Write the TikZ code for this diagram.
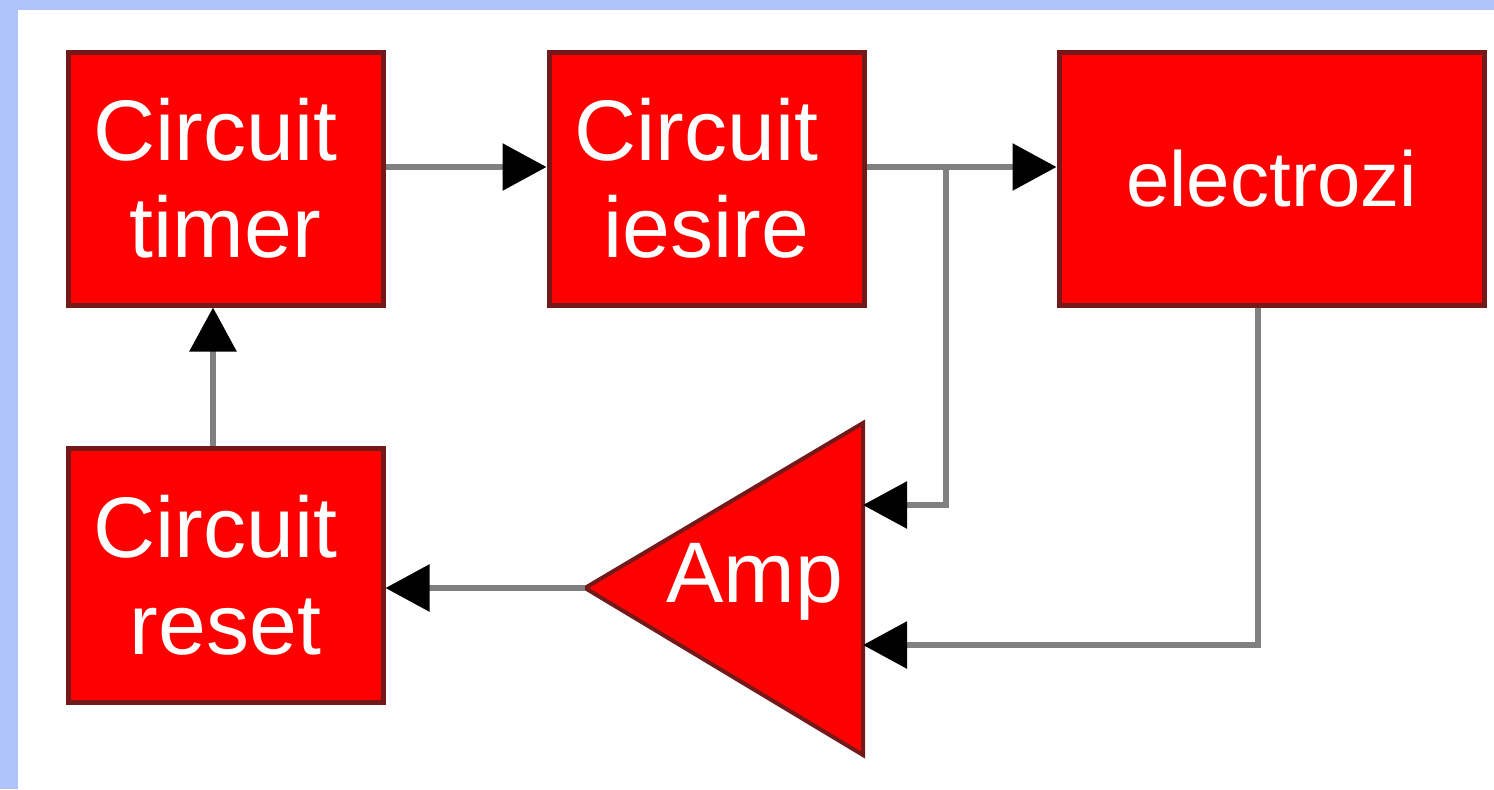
\documentclass[tikz,border=0pt]{standalone}
\usepackage{fontspec}
\setmainfont{Liberation Sans}
\usetikzlibrary{arrows.meta}
\definecolor{frameblue}{RGB}{175,195,250}
\definecolor{boxred}{RGB}{255,0,0}
\definecolor{boxedge}{RGB}{115,25,25}
\definecolor{linegray}{RGB}{128,128,128}
\newcommand{\circw}{Circuit\kern10pt}
\tikzset{
  block/.style={draw=boxedge, fill=boxred, line width=2.5pt, text=white,
    minimum height=126.5pt, align=center, inner sep=0pt,
    font=\fontsize{43}{48.5}\selectfont},
  conn/.style={draw=linegray, line width=3pt,
    -{Triangle[length=22pt,width=23pt,color=black]}},
  plainline/.style={draw=linegray, line width=3pt}
}
\begin{document}
\begin{tikzpicture}[x=0.5pt,y=-0.5pt]
\useasboundingbox (0,0) rectangle (1494,789);
\fill[white] (0,0) rectangle (1494,789);
\fill[frameblue] (0,0) rectangle (1494,10);
\fill[frameblue] (0,0) rectangle (18,789);

\node[block, minimum width=157.5pt] (timer) at (225.5,178.5) {\circw\\timer};
\node[block, minimum width=157.5pt] (iesire) at (706.5,178.5) {\circw\\iesire};
\node[block, minimum width=212.5pt, font=\fontsize{39}{44}\selectfont] (elec) at (1271.5,178.5) {electrozi};
\node[block, minimum width=157.5pt, minimum height=127pt] (reset) at (225.5,575) {\circw\\reset};

% amplifier triangle
\coordinate (ampL) at (585,588);
\coordinate (in1) at (863,505);
\coordinate (in2) at (863,645);
\draw[draw=boxedge, fill=boxred, line width=2pt, line join=miter] (ampL) -- (863,423) -- (863,755) -- cycle;
\node[text=white, font=\fontsize{43}{48.5}\selectfont, anchor=base] (amp) at (755,602) {Amp};

% connectors
\draw[conn] ([yshift=5.75pt]timer.east) -- ([yshift=5.75pt]iesire.west);
\draw[conn] ([yshift=5.75pt]iesire.east) -- ([yshift=5.75pt]elec.west);
\coordinate (br) at (946,167);
\draw[conn] (br) |- (in1);
\draw[conn] ([xshift=-6.75pt]elec.south) |- (in2);
\draw[conn] (ampL) -- (reset.east |- ampL);
\draw[conn] ([xshift=-6.25pt]reset.north) -- ([xshift=-6.25pt]timer.south);
\end{tikzpicture}
\end{document}
